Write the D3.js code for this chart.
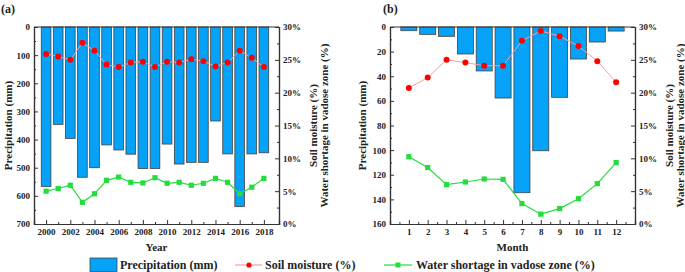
<!DOCTYPE html>
<html>
<head>
<meta charset="utf-8">
<script src="https://cdn.jsdelivr.net/npm/d3@7"></script>
<style>
  body { margin: 0; background: #fff; }
  text { font-family: "Liberation Serif", "Times New Roman", serif; font-weight: bold; fill: #222; }
  .domain { stroke: #333; }
  .tick line { stroke: #333; }
</style>
</head>
<body>
<div id="chart"></div>
<script>
// panel (a) yearly
var years = [2000,2001,2002,2003,2004,2005,2006,2007,2008,2009,2010,2011,2012,2013,2014,2015,2016,2017,2018];
var precipYear = [567,346,396,534,500,419,437,452,503,503,416,487,481,481,334,451,638,451,447];
var soilYear = [25.9,25.5,25.0,27.6,26.4,24.3,23.9,24.6,24.7,23.9,24.7,24.6,25.1,24.8,24.0,24.6,26.4,25.3,23.9];
var shortYear = [5.0,5.4,5.9,3.3,4.6,6.65,7.15,6.35,6.25,7.05,6.2,6.35,5.9,6.2,6.95,6.35,4.6,5.6,6.95];

// panel (b) monthly
var months = [1,2,3,4,5,6,7,8,9,10,11,12];
var precipMonth = [3.0,6.0,7.6,21.9,35.7,57.7,134.6,100.5,57.1,26.0,12.2,3.3];
var soilMonth = [20.7,22.3,25.0,24.6,24.1,24.1,27.9,29.4,28.6,27.1,24.8,21.6];
var shortMonth = [10.25,8.6,6.0,6.4,6.85,6.8,3.1,1.5,2.35,3.85,6.15,9.35];

var W = 685, H = 272;
var plotTop = 27, plotBottom = 224;

var svg = d3.select("#chart").append("svg")
    .attr("width", W)
    .attr("height", H);

var barColor = "#05a2f7",
    soilColor = "#ff0000",
    soilLine = "#ff9c9c",
    shortColor = "#22dd3c";

function panel(opt){
  var g = svg.append("g");

  var x = d3.scaleLinear().domain(opt.xDomain).range([opt.left, opt.right]);
  var y = d3.scaleLinear().domain([0, opt.pMax]).range([plotTop, plotBottom]);
  var yp = d3.scaleLinear().domain([0, 30]).range([plotBottom, plotTop]);

  var step = x(opt.cats[1]) - x(opt.cats[0]);
  var bw = step * opt.barFrac;

  // bars hanging from the top
  g.selectAll("rect.bar")
    .data(opt.cats)
    .enter().append("rect")
      .attr("class", "bar")
      .attr("x", function(d){ return x(d) - bw / 2; })
      .attr("y", y(0))
      .attr("width", bw)
      .attr("height", function(d, i){ return y(opt.precip[i]) - y(0); })
      .attr("fill", barColor)
      .attr("stroke", "#444")
      .attr("stroke-width", 0.8);

  var line = d3.line()
      .x(function(d){ return x(d[0]); })
      .y(function(d){ return yp(d[1]); });

  var soil = opt.cats.map(function(c, i){ return [c, opt.soil[i]]; });
  var shortage = opt.cats.map(function(c, i){ return [c, opt.short[i]]; });

  // soil moisture
  g.append("path")
    .datum(soil)
    .attr("d", line)
    .attr("fill", "none")
    .attr("stroke", soilLine)
    .attr("stroke-width", 1);

  g.selectAll("circle.soil")
    .data(soil)
    .enter().append("circle")
      .attr("class", "soil")
      .attr("cx", function(d){ return x(d[0]); })
      .attr("cy", function(d){ return yp(d[1]); })
      .attr("r", 3)
      .attr("fill", soilColor);

  // water shortage
  g.append("path")
    .datum(shortage)
    .attr("d", line)
    .attr("fill", "none")
    .attr("stroke", shortColor)
    .attr("stroke-width", 1.2);

  g.selectAll("rect.short")
    .data(shortage)
    .enter().append("rect")
      .attr("class", "short")
      .attr("x", function(d){ return x(d[0]) - 2.6; })
      .attr("y", function(d){ return yp(d[1]) - 2.6; })
      .attr("width", 5.2)
      .attr("height", 5.2)
      .attr("fill", shortColor);

  // axes, ticks pointing inward
  g.append("g")
      .attr("transform", "translate(" + opt.left + ",0)")
      .call(d3.axisLeft(y).tickValues(opt.pTicks).tickSize(-4).tickPadding(4));
  g.append("g")
      .attr("transform", "translate(" + opt.left + ",0)")
      .call(d3.axisLeft(y).tickValues(opt.pMinor).tickSize(-2).tickFormat(""));

  g.append("g")
      .attr("transform", "translate(" + opt.right + ",0)")
      .call(d3.axisRight(yp).tickValues(d3.range(0, 31, 5)).tickSize(-4).tickPadding(4)
        .tickFormat(function(d){ return d + "%"; }));
  g.append("g")
      .attr("transform", "translate(" + opt.right + ",0)")
      .call(d3.axisRight(yp).tickValues(d3.range(2.5, 30, 5)).tickSize(-2).tickFormat(""));

  g.append("g")
      .attr("transform", "translate(0," + plotBottom + ")")
      .call(d3.axisBottom(x).tickValues(opt.xTicks).tickSize(-4).tickPadding(5)
        .tickFormat(d3.format("d")));
  g.append("g")
      .attr("transform", "translate(0," + plotBottom + ")")
      .call(d3.axisBottom(x).tickValues(opt.xMinor).tickSize(-2).tickFormat(""));

  // top border
  g.append("line")
    .attr("x1", opt.left).attr("x2", opt.right)
    .attr("y1", plotTop).attr("y2", plotTop)
    .attr("stroke", "#333");

  g.selectAll(".tick text").attr("font-size", "9px");
  g.selectAll(".domain").attr("stroke-width", 1.2);

  // titles
  var midY = (plotTop + plotBottom) / 2;
  g.append("text")
    .attr("transform", "translate(" + opt.yTitleX + "," + midY + ") rotate(-90)")
    .attr("text-anchor", "middle")
    .attr("font-size", "11px")
    .text("Precipitation (mm)");

  g.append("text")
    .attr("transform", "translate(" + (opt.right + 38) + "," + midY + ") rotate(-90)")
    .attr("text-anchor", "middle")
    .attr("font-size", "11px")
    .text("Soil moisture (%)");

  g.append("text")
    .attr("transform", "translate(" + (opt.right + 49) + "," + midY + ") rotate(-90)")
    .attr("text-anchor", "middle")
    .attr("font-size", "11px")
    .text("Water shortage in vadose zone (%)");

  g.append("text")
    .attr("x", (opt.left + opt.right) / 2)
    .attr("y", 251)
    .attr("text-anchor", "middle")
    .attr("font-size", "11px")
    .text(opt.xTitle);

  g.append("text")
    .attr("x", opt.tagX)
    .attr("y", 13)
    .attr("font-size", "12px")
    .text(opt.tag);
}

panel({
  cats: years, precip: precipYear, soil: soilYear, short: shortYear,
  left: 34, right: 279, xDomain: [1999, 2019.25], barFrac: 0.8,
  pMax: 700, pTicks: d3.range(0, 701, 100), pMinor: d3.range(50, 700, 100),
  xTicks: d3.range(2000, 2019, 2), xMinor: d3.range(2001, 2019, 2),
  yTitleX: 11.5, xTitle: "Year", tag: "(a)", tagX: 1
});

panel({
  cats: months, precip: precipMonth, soil: soilMonth, short: shortMonth,
  left: 390, right: 635, xDomain: [0, 13], barFrac: 0.85,
  pMax: 160, pTicks: d3.range(0, 161, 20), pMinor: d3.range(10, 160, 20),
  xTicks: months, xMinor: d3.range(0.5, 13, 1),
  yTitleX: 365.5, xTitle: "Month", tag: "(b)", tagX: 383
});

// legend
var leg = svg.append("g").attr("transform", "translate(0,265)");

leg.append("rect")
  .attr("x", 90).attr("y", -7)
  .attr("width", 27).attr("height", 13.5)
  .attr("fill", barColor)
  .attr("stroke", "#444")
  .attr("stroke-width", 0.8);
leg.append("text").attr("x", 120).attr("y", 4).attr("font-size", "12px").text("Precipitation (mm)");

leg.append("line")
  .attr("x1", 235).attr("x2", 262).attr("y1", 0).attr("y2", 0)
  .attr("stroke", soilLine).attr("stroke-width", 1.2);
leg.append("circle").attr("cx", 249).attr("cy", 0).attr("r", 2.6).attr("fill", soilColor);
leg.append("text").attr("x", 265).attr("y", 4).attr("font-size", "12px").text("Soil moisture (%)");

leg.append("line")
  .attr("x1", 384).attr("x2", 412).attr("y1", 0).attr("y2", 0)
  .attr("stroke", shortColor).attr("stroke-width", 1.2);
leg.append("rect").attr("x", 395.5).attr("y", -2.5).attr("width", 5).attr("height", 5).attr("fill", shortColor);
leg.append("text").attr("x", 416).attr("y", 4).attr("font-size", "12px").text("Water shortage in vadose zone (%)");
</script>
</body>
</html>
